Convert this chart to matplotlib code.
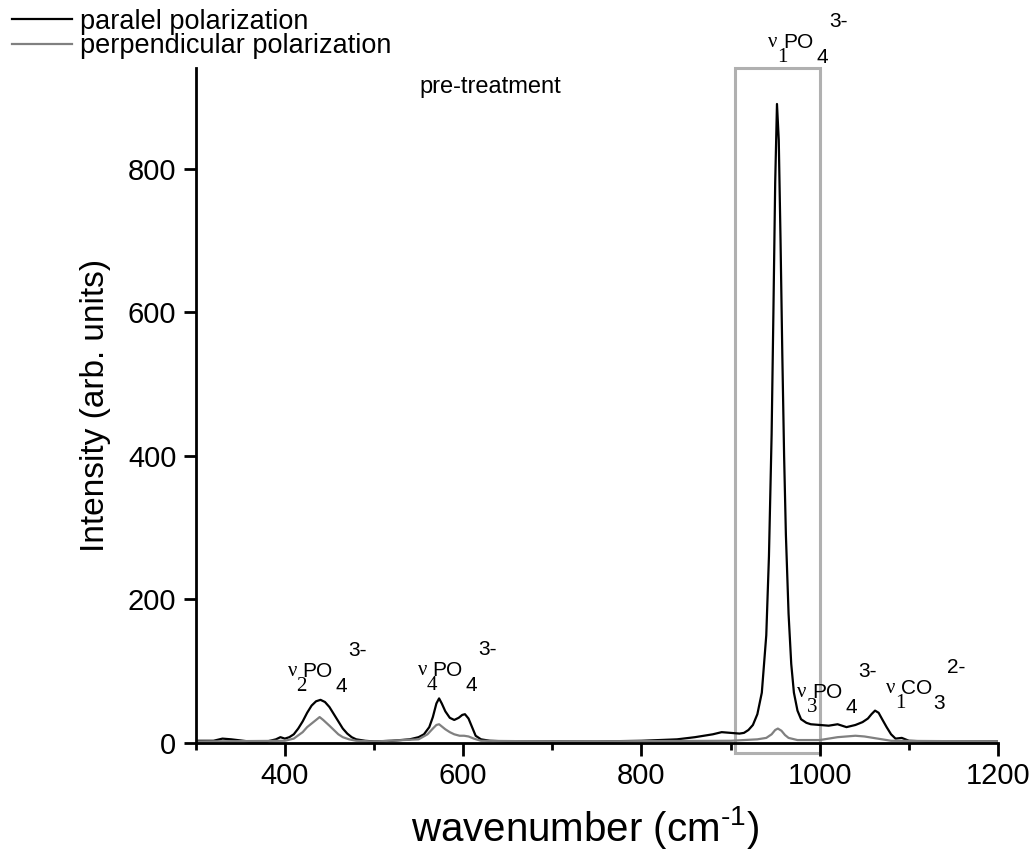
import numpy as np
import matplotlib
matplotlib.use('Agg')
import matplotlib.pyplot as plt
from matplotlib.patches import Rectangle
from matplotlib.ticker import MultipleLocator

plt.rcParams['font.family'] = ['Liberation Sans', 'DejaVu Sans']
plt.rcParams['mathtext.fontset'] = 'custom'
plt.rcParams['mathtext.rm'] = 'Liberation Sans'

# spectra (wavenumber, intensity)
par_x = [300, 320, 330, 340, 360, 380, 390, 395, 400, 405, 410, 415, 420, 425, 430, 435, 440,
         445, 450, 455, 460, 465, 470, 475, 480, 490, 500, 520, 540, 550, 556, 562, 566, 570,
         573, 576, 580, 585, 590, 595, 599, 602, 606, 610, 614, 620, 630,
         650, 700, 750, 800, 840, 860, 880, 890, 900, 910, 915, 920, 925, 930, 935, 940, 943,
         946, 948, 950, 952, 954, 956, 958, 960, 962, 965, 968, 971, 975, 979, 985, 990,
         1000, 1010, 1020, 1030, 1040, 1048, 1054, 1058, 1062, 1066, 1070, 1075, 1080, 1085,
         1092, 1100, 1120, 1150, 1200]
par_y = [3, 3, 6, 5, 2, 2, 5, 8, 6, 8, 12, 20, 30, 42, 52, 58, 60,
         57, 50, 40, 30, 20, 13, 8, 5, 3, 2, 3, 5, 8, 12, 22, 36, 55,
         62, 55, 44, 35, 32, 35, 39, 40, 34, 22, 10, 5, 3,
         2, 2, 2, 3, 5, 8, 12, 15, 14, 13, 14, 18, 25, 40, 70, 150, 260,
         430, 600, 780, 890, 840, 700, 540, 400, 290, 180, 110, 70, 45, 33, 28, 26,
         25, 24, 26, 22, 25, 29, 34, 40, 45, 42, 33, 22, 12, 6,
         7, 3, 2, 2, 2]

perp_x = [300, 400, 410, 420, 425, 430, 435, 439, 443, 450, 455, 460, 465, 472, 480, 500,
          550, 560, 566, 570, 573, 576, 580, 585, 590, 596, 601, 606, 612, 620, 700, 900,
          930, 940, 946, 950, 953, 957, 961, 965, 975, 1000, 1020, 1040, 1050, 1060, 1080, 1200]
perp_y = [2, 3, 6, 15, 22, 27, 32, 36, 32, 24, 18, 12, 8, 5, 3, 2,
          5, 12, 20, 25, 26, 23, 19, 15, 12, 10, 10, 9, 6, 3, 2, 3,
          5, 7, 12, 18, 20, 17, 11, 7, 4, 4, 8, 10, 9, 7, 3, 2]

# band labels: (x, y, nu index, group, subscript, charge)
bands = [
    (403, 99, '2', 'PO', '4', '3-'),
    (549, 101, '4', 'PO', '4', '3-'),
    (975, 70, '3', 'PO', '4', '3-'),
    (1074, 76, '1', 'CO', '3', '2-'),
    (942, 975, '1', 'PO', '4', '3-'),
]

fig = plt.figure(figsize=(10.30, 8.51), dpi=100)
ax = fig.add_axes([0.190, 0.127, 0.779, 0.793])

l1, = ax.plot(par_x, par_y, color='black', lw=1.6, label='paralel polarization')
l2, = ax.plot(perp_x, perp_y, color='#808080', lw=1.6, label='perpendicular polarization')

ax.add_patch(Rectangle((905, -14), 95, 954, fill=False, edgecolor='#b0b0b0', lw=2.2, clip_on=False))

ax.set_xlim(300, 1200)
ax.set_ylim(0, 940)
ax.xaxis.set_major_locator(MultipleLocator(200))
ax.xaxis.set_minor_locator(MultipleLocator(100))
ax.yaxis.set_major_locator(MultipleLocator(200))
ax.spines['top'].set_visible(False)
ax.spines['right'].set_visible(False)
for s in ['left', 'bottom']:
    ax.spines[s].set_linewidth(2)
ax.tick_params(which='major', direction='out', length=9, width=2, labelsize=21, pad=5)
ax.tick_params(which='minor', direction='out', length=5, width=2)

ax.set_xlabel(r'wavenumber (cm$^{\text{-}1}$)', fontsize=29)
ax.xaxis.set_label_coords(0.485, -0.09)
ax.set_ylabel('Intensity (arb. units)', fontsize=24, labelpad=12)

ax.text(630, 913, 'pre-treatment', fontsize=17, ha='center', va='center')

for x, y, nu, grp, sub, chg in bands:
    kw = dict(xy=(x, y), textcoords='offset pixels', fontsize=15, va='center', ha='left',
              annotation_clip=False)
    ax.annotate('\u03bd', xytext=(0, 0), family=['Liberation Serif'], **kw)
    ax.annotate(nu, xytext=(9, -15), family=['Liberation Serif'], **kw)
    ax.annotate(grp, xytext=(15, 0), **kw)
    ax.annotate(sub, xytext=(48, -15), **kw)
    ax.annotate(chg, xytext=(61, 21), **kw)

fig.legend(handles=[l1, l2], loc='upper left', bbox_to_anchor=(0.0, 1.004), frameon=False,
           fontsize=19.5, handlelength=2.2, handletextpad=0.3, labelspacing=-0.05,
           borderaxespad=0.05)

fig.savefig('out.png', dpi=100)
